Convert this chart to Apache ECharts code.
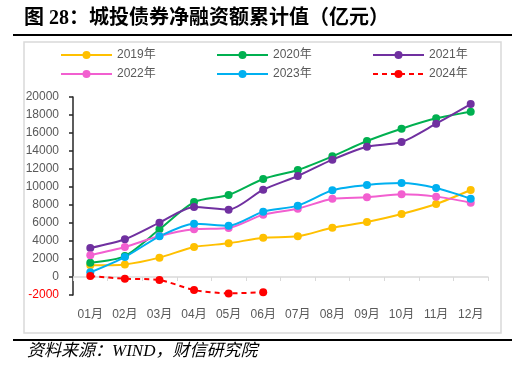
<!DOCTYPE html>
<html>
<head>
<meta charset="utf-8">
<script src="https://cdn.jsdelivr.net/npm/echarts@6/dist/echarts.min.js"></script>
<style>html,body{margin:0;padding:0;background:#fff;}#c{width:529px;height:370px;}</style>
</head>
<body>
<div id="c"></div>
<script>
const categories = ['01月','02月','03月','04月','05月','06月','07月','08月','09月','10月','11月','12月'];
const seriesNames = ['2019年','2020年','2021年','2022年','2023年','2024年'];
const y2019 = [1300, 1400, 2150, 3330, 3740, 4370, 4520, 5480, 6110, 7000, 8110, 9670];
const y2020 = [1590, 2330, 5300, 8330, 9110, 10890, 11890, 13410, 15110, 16480, 17630, 18370];
const y2021 = [3220, 4190, 6040, 7780, 7480, 9700, 11220, 13040, 14480, 15000, 17040, 19220];
const y2022 = [2410, 3330, 4560, 5300, 5440, 6930, 7590, 8700, 8850, 9190, 8930, 8260];
const y2023 = [520, 2220, 4520, 5930, 5700, 7260, 7930, 9630, 10220, 10440, 9890, 8700];
const y2024 = [110, -190, -330, -1440, -1820, -1700];
const yTicks = {min: -2000, max: 20000, interval: 2000};

const colors = ['#FFC000', '#00B050', '#7030A0', '#F25FD0', '#00B0F0', '#FF0000'];
const dataList = [y2019, y2020, y2021, y2022, y2023, y2024];
const FONT = '"Liberation Sans", "Noto Sans CJK SC", sans-serif';

const chart = echarts.init(document.getElementById('c'), null, {renderer: 'canvas'});

const series = dataList.map((d, i) => ({
  name: seriesNames[i],
  type: 'line',
  data: d,
  xAxisIndex: 0,
  smooth: 0.25,
  symbol: 'circle',
  symbolSize: 8,
  showSymbol: true,
  color: colors[i],
  lineStyle: {width: 2, color: colors[i], type: i === 5 ? [5, 4] : 'solid'},
  itemStyle: {color: colors[i]},
  emphasis: {disabled: true},
  animation: false
}));

function legendCol(left, names) {
  return {
    orient: 'vertical', left: left, top: 48, padding: 0,
    itemWidth: 51, itemHeight: 10, itemGap: 5,
    data: names,
    textStyle: {fontFamily: FONT, fontSize: 12, color: '#595959', lineHeight: 14}
  };
}

chart.setOption({
  animation: false,
  title: [
    {
      text: '图 28：城投债券净融资额累计值（亿元）',
      left: 24, top: 9, padding: 0,
      textStyle: {fontFamily: '"Liberation Serif", "Noto Sans CJK SC", serif', fontSize: 20, fontWeight: 'bold', color: '#000'}
    },
    {
      text: '资料来源：WIND，财信研究院',
      left: 27, top: 343, padding: 0,
      textStyle: {fontFamily: '"Liberation Serif", "Noto Sans CJK SC", serif', fontSize: 17, fontStyle: 'italic', fontWeight: 'normal', color: '#000'}
    }
  ],
  graphic: [
    {type: 'line', shape: {x1: 13, y1: 35, x2: 512, y2: 35}, style: {stroke: '#000', lineWidth: 2}, silent: true},
    {type: 'line', shape: {x1: 13, y1: 340, x2: 512, y2: 340}, style: {stroke: '#000', lineWidth: 2}, silent: true},
    {type: 'rect', shape: {x: 24, y: 42, width: 477, height: 291}, style: {fill: 'none', stroke: '#d9d9d9', lineWidth: 1.5}, silent: true, z: -1}
  ],
  legend: [
    legendCol(60, [seriesNames[0], seriesNames[3]]),
    legendCol(216, [seriesNames[1], seriesNames[4]]),
    legendCol(372, [seriesNames[2], seriesNames[5]])
  ],
  grid: {left: 73, right: 41, top: 97, bottom: 75},
  xAxis: [
    {
      type: 'category', data: categories, position: 'bottom', boundaryGap: true,
      axisLine: {onZero: true, lineStyle: {color: '#d9d9d9', width: 1.5}},
      axisTick: {show: true, inside: false, length: 4, lineStyle: {color: '#d9d9d9', width: 1}},
      axisLabel: {show: false},
      splitLine: {show: false}
    },
    {
      type: 'category', data: categories, position: 'bottom', boundaryGap: true,
      axisLine: {show: false, onZero: false},
      axisTick: {show: false},
      axisLabel: {show: true, margin: 14, fontFamily: FONT, fontSize: 12, color: '#595959'},
      splitLine: {show: false}
    }
  ],
  yAxis: {
    type: 'value', min: yTicks.min, max: yTicks.max, interval: yTicks.interval,
    axisLine: {show: true, onZero: false, lineStyle: {color: '#262626', width: 1.5}},
    axisTick: {show: true, inside: false, length: 4, lineStyle: {color: '#262626', width: 1.5}},
    splitLine: {show: false},
    axisLabel: {
      margin: 14, fontFamily: FONT, fontSize: 12,
      formatter: function (v) { return String(v); },
      color: function (v) { return Number(v) < 0 ? '#FF0000' : '#595959'; }
    }
  },
  series: series
});
</script>
</body>
</html>
